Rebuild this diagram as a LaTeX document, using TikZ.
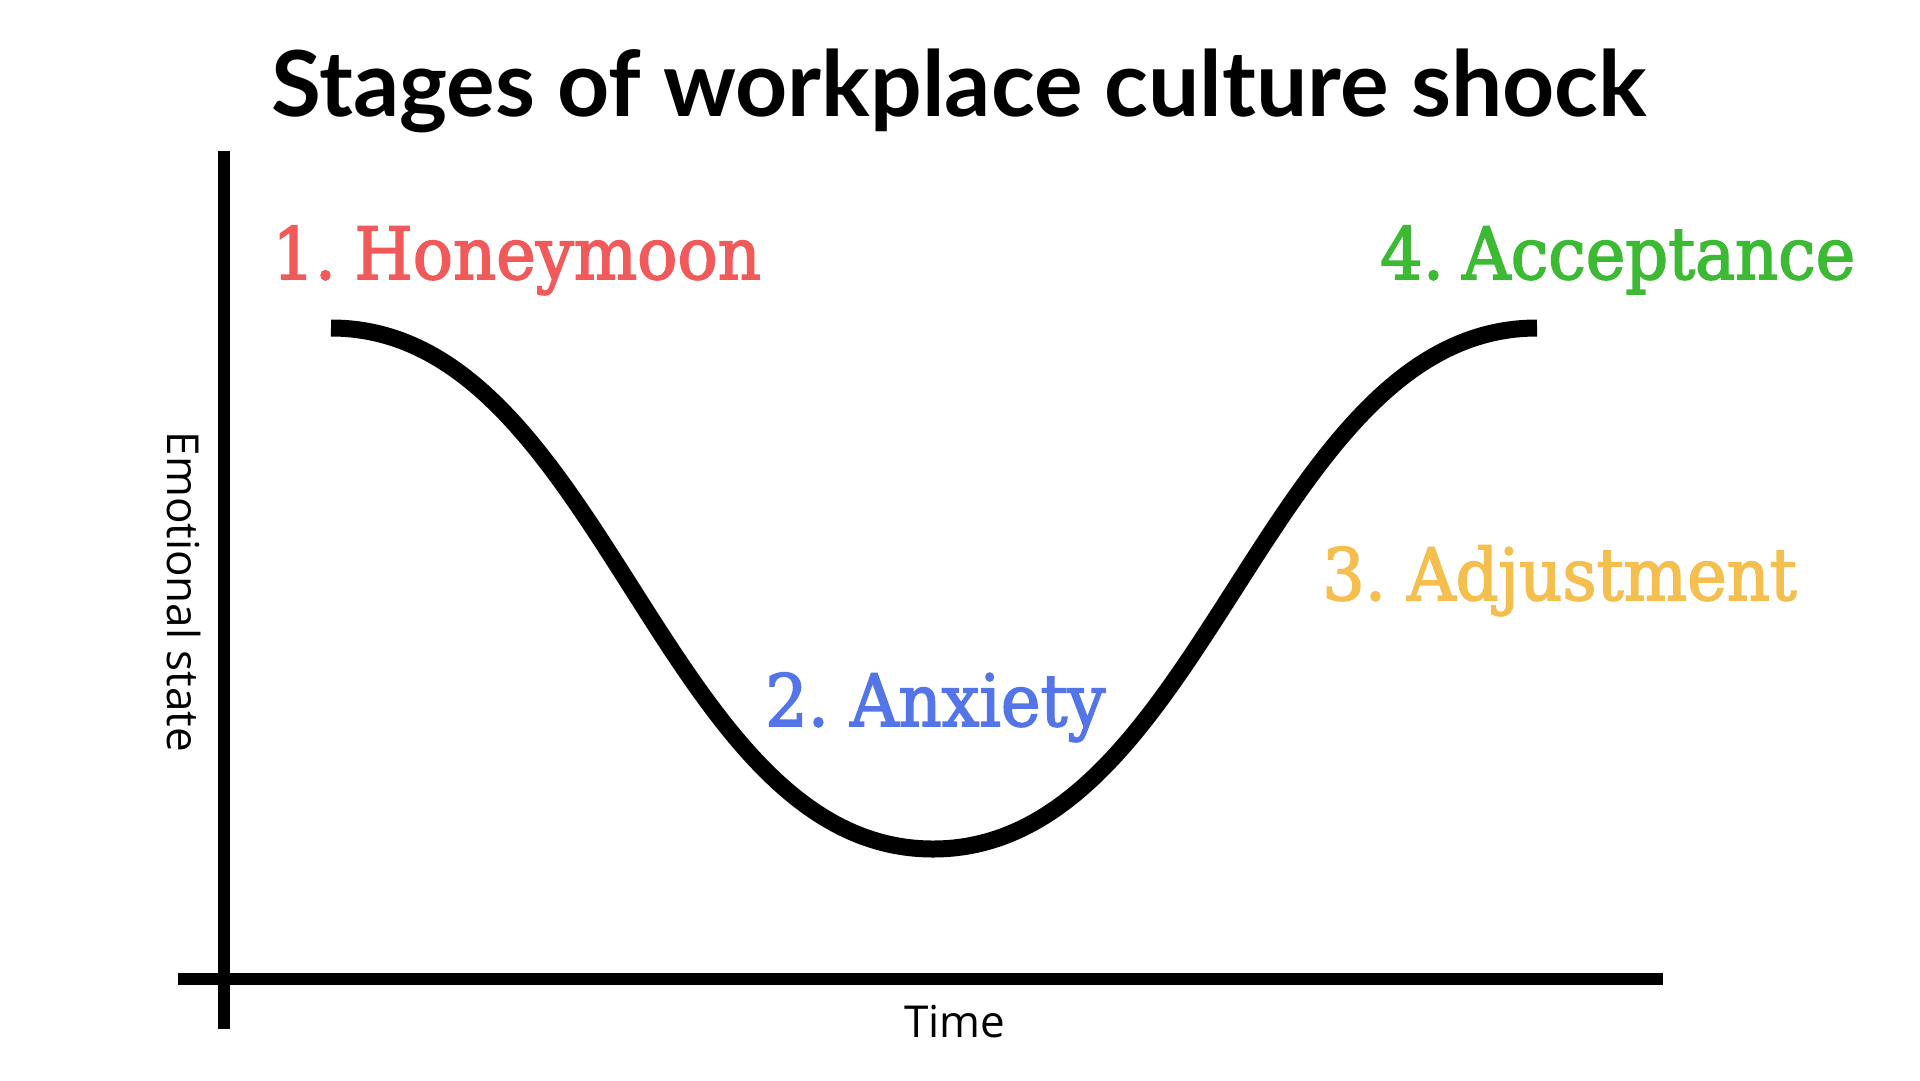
\documentclass[tikz,border=0pt]{standalone}
\usepackage{fontspec}
\newfontfamily\latofont{Lato}
\newfontfamily\slabfont{DejaVu Serif}[FakeStretch=0.93,FakeBold=2.2]
\newfontfamily\axisfont{Open Sans}
\definecolor{honeyred}{HTML}{F05A5A}
\definecolor{anxblue}{HTML}{5375E8}
\definecolor{adjyellow}{HTML}{F4BF4F}
\definecolor{accgreen}{HTML}{3DBA33}
\begin{document}
\begin{tikzpicture}[x=1pt,y=-1pt,
  axisline/.style={line width=12pt},
  curveline/.style={line width=17pt},
  stagelabel/.style={anchor=base west, inner sep=0pt, font=\slabfont\fontsize{72}{80}\selectfont},
  axislabel/.style={inner sep=0pt, font=\axisfont\fontsize{44}{50}\selectfont},
]
\useasboundingbox[fill=white] (0,0) rectangle (1920,1080);
% title
\node[anchor=base, inner sep=0pt, font=\latofont\bfseries\fontsize{91}{110}\selectfont] (title) at (959,116) {Stages of workplace culture shock};
% axes
\coordinate (ytop) at (224,151);
\coordinate (ybot) at (224,1029);
\coordinate (xleft) at (178,979);
\coordinate (xright) at (1663,979);
\draw[axisline] (ytop) -- (ybot);
\draw[axisline] (xleft) -- (xright);
% curve
\coordinate (cstart) at (331,328);
\coordinate (cbottom) at (933,849);
\coordinate (cend) at (1537,328);
\draw[curveline] (cstart) .. controls (602,328) and (662,849) .. (cbottom)
  .. controls (1204,849) and (1266,328) .. (cend);
% stage labels
\node[stagelabel, text=honeyred] (s1) at (272,279) {1. \kern-0.14em Honeymoon};
\node[stagelabel, text=anxblue] (s2) at (765,726) {2. \kern-0.1em Anxiety};
\node[stagelabel, text=adjyellow] (s3) at (1322,600) {3. \kern-0.1em Adjustment};
\node[stagelabel, text=accgreen] (s4) at (1380,279) {4. \kern-0.14em Acceptance};
% axis labels
\node[axislabel, anchor=base] (time) at (955,1037) {Time};
\node[axislabel, rotate=-90] (emo) at (184,592) {Emotional state};
\end{tikzpicture}
\end{document}
